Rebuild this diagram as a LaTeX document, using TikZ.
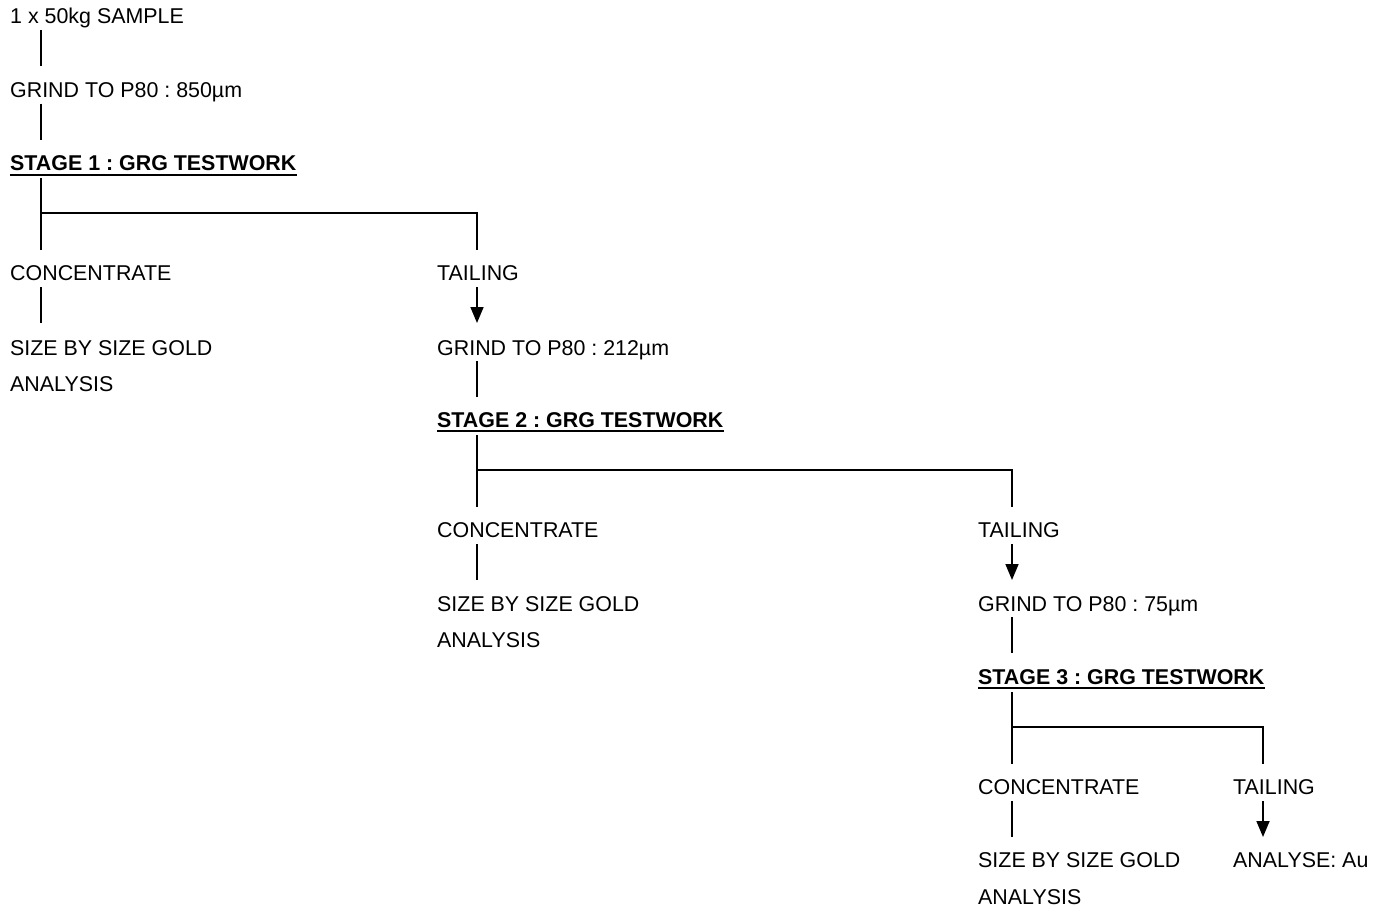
\documentclass[tikz,border=0pt]{standalone}
\usepackage{fontspec}
\setmainfont{Liberation Sans}
\usetikzlibrary{arrows.meta}
\frenchspacing
\begin{document}
\frenchspacing
\begin{tikzpicture}[x=1pt,y=-1pt,
  lbl/.style={anchor=base west,inner sep=0pt,font=\fontsize{21.4}{25}\selectfont\frenchspacing},
  hd/.style={anchor=base west,inner sep=0pt,font=\fontsize{21.4}{25}\selectfont\bfseries\frenchspacing},
  ln/.style={line width=1.7pt},
  arr/.style={line width=1.7pt,-{Triangle[length=16pt,width=13pt]}},
  ul/.style={line width=1.6pt}]
\useasboundingbox (0,0) rectangle (1381,909);

% texts
\node[lbl] (s0)  at (10,24)  {1 x 50kg SAMPLE};
\node[lbl] (g1)  at (10,98)  {GRIND TO P80 : 850µm};
\node[hd]  (st1) at (10,171) {STAGE 1 : GRG TESTWORK};
\node[lbl] (c1)  at (10,280) {CONCENTRATE};
\node[lbl] (t1)  at (437,280) {TAILING};
\node[lbl] (sz1) at (10,355) {SIZE BY SIZE GOLD};
\node[lbl] (an1) at (10,391) {ANALYSIS};
\node[lbl] (g2)  at (437,355) {GRIND TO P80 : 212µm};
\node[hd]  (st2) at (437,427) {STAGE 2 : GRG TESTWORK};
\node[lbl] (c2)  at (437,537) {CONCENTRATE};
\node[lbl] (t2)  at (978,537) {TAILING};
\node[lbl] (sz2) at (437,611) {SIZE BY SIZE GOLD};
\node[lbl] (an2) at (437,647) {ANALYSIS};
\node[lbl] (g3)  at (978,611) {GRIND TO P80 : 75µm};
\node[hd]  (st3) at (978,684) {STAGE 3 : GRG TESTWORK};
\node[lbl] (c3)  at (978,794) {CONCENTRATE};
\node[lbl] (t3)  at (1233,794) {TAILING};
\node[lbl] (sz3) at (978,867) {SIZE BY SIZE GOLD};
\node[lbl] (an3) at (978,904) {ANALYSIS};
\node[lbl] (au)  at (1233,867) {ANALYSE: Au};

% underlines
\foreach \s in {st1,st2,st3}
  \draw[ul] ([yshift=-4pt]\s.base west) -- ([yshift=-4pt]\s.base east);

% junction coordinates
\coordinate (j1l) at (41,213);
\coordinate (j1r) at (477,213);
\coordinate (j2l) at (477,470);
\coordinate (j2r) at (1012,470);
\coordinate (j3l) at (1012,727);
\coordinate (j3r) at (1263,727);

% stage 1
\draw[ln] ([xshift=31pt,yshift=-6pt]s0.base west) -- ([xshift=31pt,yshift=32pt]g1.base west);
\draw[ln] ([xshift=31pt,yshift=-6pt]g1.base west) -- ([xshift=31pt,yshift=31pt]st1.base west);
\draw[ln] ([xshift=31pt,yshift=-7pt]st1.base west) -- ([xshift=31pt,yshift=30pt]c1.base west);
\draw[ln] (j1l) -- (j1r) -- ([xshift=40pt,yshift=30pt]t1.base west);
\draw[ln] ([xshift=31pt,yshift=-7pt]c1.base west) -- ([xshift=31pt,yshift=32pt]sz1.base west);
\draw[arr] ([xshift=40pt,yshift=-7pt]t1.base west) -- ([xshift=40pt,yshift=32pt]g2.base west);

% stage 2
\draw[ln] ([xshift=40pt,yshift=-6pt]g2.base west) -- ([xshift=40pt,yshift=30pt]st2.base west);
\draw[ln] ([xshift=40pt,yshift=-8pt]st2.base west) -- ([xshift=40pt,yshift=30pt]c2.base west);
\draw[ln] (j2l) -- (j2r) -- ([xshift=34pt,yshift=30pt]t2.base west);
\draw[ln] ([xshift=40pt,yshift=-7pt]c2.base west) -- ([xshift=40pt,yshift=31pt]sz2.base west);
\draw[arr] ([xshift=34pt,yshift=-7pt]t2.base west) -- ([xshift=34pt,yshift=31pt]g3.base west);

% stage 3
\draw[ln] ([xshift=34pt,yshift=-6pt]g3.base west) -- ([xshift=34pt,yshift=31pt]st3.base west);
\draw[ln] ([xshift=34pt,yshift=-8pt]st3.base west) -- ([xshift=34pt,yshift=30pt]c3.base west);
\draw[ln] (j3l) -- (j3r) -- ([xshift=30pt,yshift=30pt]t3.base west);
\draw[ln] ([xshift=34pt,yshift=-7pt]c3.base west) -- ([xshift=34pt,yshift=30pt]sz3.base west);
\draw[arr] ([xshift=30pt,yshift=-7pt]t3.base west) -- ([xshift=30pt,yshift=30pt]au.base west);
\end{tikzpicture}
\end{document}
